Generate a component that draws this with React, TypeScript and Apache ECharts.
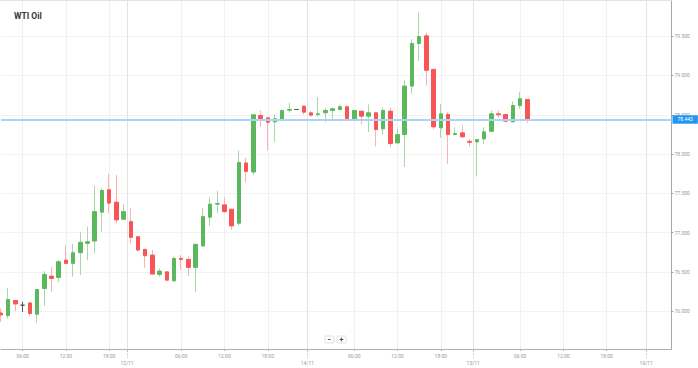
import React, { useEffect, useRef } from 'react';
import * as echarts from 'echarts';

const TITLE = 'WTI Oil';
// half-hour slots along the x axis (one hourly candle every second slot)
const SLOT_COUNT = 187;
const TICK_SLOTS = [6, 18, 30, 35, 50, 62, 74, 85, 98, 110, 122, 131, 144, 156, 168, 179];
const TICK_LABELS = ['06:00', '12:00', '18:00', '12/11', '06:00', '12:00', '18:00', '14/11', '06:00', '12:00', '18:00', '15/11', '06:00', '12:00', '18:00', '16/11'];
const DATE_LABELS = ['12/11', '14/11', '15/11', '16/11'];

const OPEN = [75.978, 75.945, 76.137, 76.077, 76.106, 75.962, 76.290, 76.447, 76.430, 76.651,
  76.609, 76.745, 76.865, 76.894, 77.261, 77.546, 77.388, 77.171, 77.141, 76.949,
  76.788, 76.715, 76.469, 76.502, 76.387, 76.673, 76.660, 76.558, 76.830, 77.197,
  77.363, 77.354, 77.299, 77.120, 77.887, 77.772, 78.491, 78.461, 78.410, 78.440,
  78.558, 78.567, 78.610, 78.525, 78.503, 78.525, 78.555, 78.567, 78.602, 78.449,
  78.546, 78.482, 78.525, 78.321, 78.546, 78.142, 78.248, 78.865, 79.407, 79.504,
  79.078, 78.334, 78.503, 78.248, 78.270, 78.162, 78.155, 78.193, 78.290, 78.512,
  78.503, 78.410, 78.618, 78.695];
const CLOSE = [75.953, 76.149, 76.093, 76.077, 75.971, 76.277, 76.469, 76.418, 76.630, 76.609,
  76.745, 76.877, 76.885, 77.268, 77.537, 77.376, 77.162, 77.268, 76.941, 76.779,
  76.706, 76.473, 76.511, 76.396, 76.673, 76.660, 76.558, 76.852, 77.204, 77.363,
  77.371, 77.268, 77.086, 77.894, 77.779, 78.500, 78.452, 78.405, 78.449, 78.555,
  78.567, 78.567, 78.533, 78.495, 78.512, 78.555, 78.576, 78.602, 78.449, 78.555,
  78.482, 78.525, 78.312, 78.555, 78.133, 78.248, 78.865, 79.407, 79.496, 79.066,
  78.346, 78.512, 78.248, 78.261, 78.219, 78.150, 78.184, 78.283, 78.512, 78.500,
  78.418, 78.618, 78.704, 78.443];
const LOW = [75.863, 75.907, 76.004, 75.991, 75.936, 75.856, 76.068, 76.247, 76.374, 76.609,
  76.438, 76.460, 76.651, 76.737, 77.013, 77.248, 77.120, 77.171, 76.865, 76.757,
  76.553, 76.473, 76.438, 76.387, 76.387, 76.524, 76.447, 76.239, 76.830, 77.086,
  77.248, 77.248, 77.035, 77.090, 77.639, 77.737, 78.341, 78.047, 78.150, 78.418,
  78.525, 78.567, 78.503, 78.474, 78.474, 78.405, 78.449, 78.567, 78.449, 78.449,
  78.376, 78.277, 78.099, 78.248, 78.086, 78.133, 77.835, 78.768, 79.184, 78.874,
  78.312, 78.206, 77.878, 78.248, 78.206, 78.091, 77.715, 78.129, 78.290, 78.461,
  78.405, 78.410, 78.576, 78.397];
const HIGH = [76.034, 76.298, 76.141, 76.119, 76.110, 76.277, 76.511, 76.566, 76.651, 76.834,
  76.856, 77.005, 77.077, 77.597, 77.567, 77.746, 77.737, 77.367, 77.312, 76.949,
  76.788, 76.779, 76.545, 76.502, 76.694, 76.715, 76.694, 76.852, 77.312, 77.447,
  77.533, 77.447, 77.299, 78.044, 77.950, 78.504, 78.555, 78.461, 78.504, 78.567,
  78.653, 78.567, 78.618, 78.546, 78.724, 78.589, 78.589, 78.631, 78.618, 78.555,
  78.546, 78.631, 78.525, 78.589, 78.589, 78.321, 78.938, 79.461, 79.803, 79.547,
  79.078, 78.640, 78.533, 78.341, 78.363, 78.193, 78.184, 78.341, 78.555, 78.555,
  78.503, 78.673, 78.793, 78.695];
const LAST_PRICE = 78.443;
const Y_MIN = 75.52;
const Y_MAX = 79.96;

const FONT = 'Roboto, Arial, sans-serif';
const UP = '#5cb85c';
const DOWN = '#f85656';
const UP_WICK = '#a8d8a8';
const DOWN_WICK = '#ffb0b0';
const DOJI = '#555555';

export default function App() {
  const ref = useRef<HTMLDivElement>(null);
  useEffect(() => {
    if (!ref.current) return;
    const chart = echarts.init(ref.current, undefined, { renderer: 'svg' });

    const categories = Array.from({ length: SLOT_COUNT }, (_, i) => String(i));
    const labelBySlot: Record<number, string> = {};
    TICK_SLOTS.forEach((s, i) => { labelBySlot[s] = TICK_LABELS[i]; });
    const isTick = (i: number) => labelBySlot[i] !== undefined;
    const isDate = (i: number) => isTick(i) && DATE_LABELS.includes(labelBySlot[i]);

    const bodyData: any[] = categories.map(() => '-');
    const wickData: any[] = categories.map(() => '-');
    OPEN.forEach((o, k) => {
      const c = CLOSE[k];
      const slot = k * 2;
      const doji = o === c;
      const dojiStyle = doji ? { color: DOJI, color0: DOJI, borderColor: DOJI, borderColor0: DOJI } : undefined;
      bodyData[slot] = { value: [o, c, Math.min(o, c), Math.max(o, c)], itemStyle: dojiStyle };
      wickData[slot] = { value: [o, c, LOW[k], HIGH[k]], itemStyle: dojiStyle };
    });

    const splitColors = TICK_SLOTS.map((s) => (isDate(s) ? '#e3e3e3' : '#f0f0f0'));

    chart.setOption({
      animation: false,
      backgroundColor: '#ffffff',
      textStyle: { fontFamily: FONT },
      title: {
        text: TITLE,
        left: 9,
        top: 6,
        textStyle: { fontSize: 8.5, fontWeight: 'bold', color: '#333', fontFamily: FONT },
      },
      grid: { left: 1, right: 26.5, top: 0, bottom: 19 },
      xAxis: [
        {
          type: 'category',
          data: categories,
          boundaryGap: false,
          position: 'bottom',
          axisLine: { show: true, lineStyle: { color: '#b0b0b0', width: 1 } },
          axisTick: { show: true, length: 2, interval: (i: number) => isTick(i), lineStyle: { color: '#b0b0b0' } },
          axisLabel: {
            show: true,
            interval: (i: number) => isTick(i),
            formatter: (v: string) => {
              const i = Number(v);
              if (!isTick(i)) return '';
              return isDate(i) ? '\n' + labelBySlot[i] : labelBySlot[i];
            },
            fontSize: 5,
            lineHeight: 7,
            color: '#999',
            margin: 3,
            fontFamily: FONT,
          },
          splitLine: { show: true, interval: (i: number) => isTick(i), lineStyle: { color: splitColors, width: 1 } },
        },
        {
          type: 'category',
          data: categories,
          boundaryGap: false,
          position: 'bottom',
          axisLine: { show: false },
          axisTick: { show: true, length: 10, interval: (i: number) => isDate(i), lineStyle: { color: '#c4c4c4', type: [1, 1] } },
          axisLabel: { show: false },
          splitLine: { show: false },
        },
        {
          type: 'category',
          data: categories,
          boundaryGap: false,
          position: 'top',
          axisLine: { show: true, lineStyle: { color: '#e2e2e2' } },
          axisTick: { show: false },
          axisLabel: { show: false },
          splitLine: { show: false },
        },
      ],
      yAxis: {
        type: 'value',
        position: 'right',
        min: Y_MIN,
        max: Y_MAX,
        splitNumber: 9,
        scale: true,
        axisLine: { show: true, lineStyle: { color: '#a8a8a8', width: 1 } },
        axisTick: { show: true, length: 2, lineStyle: { color: '#a8a8a8' } },
        axisLabel: {
          show: true,
          showMinLabel: false,
          showMaxLabel: false,
          formatter: (v: number) => v.toFixed(3),
          fontSize: 5,
          color: '#999',
          margin: 3,
          fontFamily: FONT,
        },
        splitLine: { show: true, lineStyle: { color: '#f2f2f2', width: 1 } },
      },
      series: [
        {
          name: 'wick',
          type: 'candlestick',
          xAxisIndex: 0,
          barWidth: 0.5,
          data: wickData,
          itemStyle: {
            color: 'rgba(0,0,0,0)',
            color0: 'rgba(0,0,0,0)',
            borderColor: UP_WICK,
            borderColor0: DOWN_WICK,
            borderWidth: 1,
          },
          z: 2,
        },
        {
          name: TITLE,
          type: 'candlestick',
          xAxisIndex: 0,
          barWidth: 4,
          data: bodyData,
          itemStyle: {
            color: UP,
            color0: DOWN,
            borderColor: UP,
            borderColor0: DOWN,
            borderWidth: 1,
          },
          z: 3,
          markLine: {
            silent: true,
            symbol: ['none', 'none'],
            lineStyle: { color: '#a9d4f5', width: 2, type: 'solid' },
            label: {
              show: true,
              position: 'end',
              formatter: LAST_PRICE.toFixed(3),
              backgroundColor: '#2196f3',
              color: '#ffffff',
              fontSize: 5,
              padding: [2, 5, 1.5, 5],
              distance: 1,
              fontFamily: FONT,
            },
            data: [{ yAxis: LAST_PRICE }],
          },
        },
      ],
      graphic: [
        {
          type: 'group',
          x: 325,
          y: 336,
          children: [
            { type: 'rect', shape: { x: 0, y: 0, width: 9, height: 7, r: 1 }, style: { fill: '#fff', stroke: '#e0e0e0', lineWidth: 1 } },
            { type: 'text', x: 4.5, y: 3.5, style: { text: '−', fontSize: 7, fontWeight: 'bold', fill: '#444', align: 'center', verticalAlign: 'middle', fontFamily: FONT } },
            { type: 'rect', shape: { x: 12, y: 0, width: 9, height: 7, r: 1 }, style: { fill: '#fff', stroke: '#e0e0e0', lineWidth: 1 } },
            { type: 'text', x: 16.5, y: 3.5, style: { text: '+', fontSize: 7, fontWeight: 'bold', fill: '#444', align: 'center', verticalAlign: 'middle', fontFamily: FONT } },
          ],
        },
      ],
    });
    return () => chart.dispose();
  }, []);
  return <div ref={ref} style={{ position: 'fixed', left: 0, top: 0, width: 698, height: 368, background: '#fff' }} />;
}
